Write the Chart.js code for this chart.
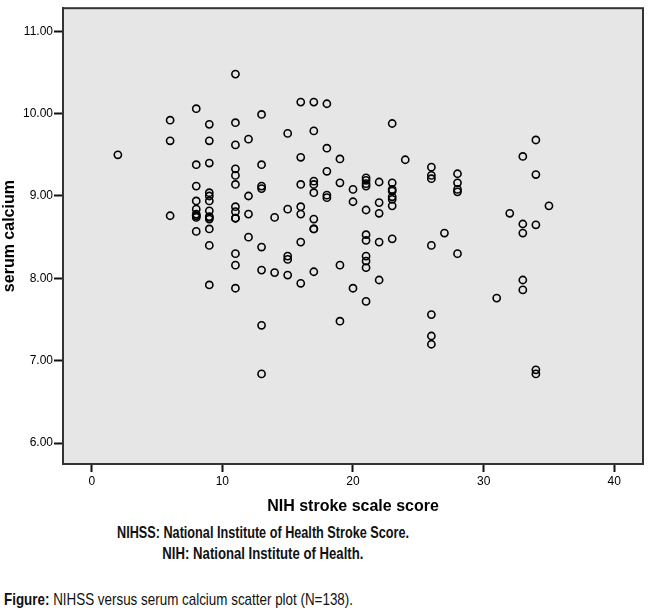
<!DOCTYPE html>
<html>
<head>
<meta charset="utf-8">
<script src="https://cdn.jsdelivr.net/npm/chart.js@4.4.1/dist/chart.umd.min.js"></script>
<style>
  body { margin: 0; background: #fff; }
  #wrap { position: relative; width: 650px; height: 616px; }
  #box { position: absolute; left: 0; top: 0; width: 650px; height: 520px; }
  .note {
    position: absolute; white-space: nowrap; color: #111; font-size: 17px; line-height: 20px;
    font-family: "Liberation Sans", Arial, sans-serif;
  }
</style>
</head>
<body>
<div id="wrap">
  <div id="box"><canvas id="scatterChart"></canvas></div>
  <span class="note" data-w="292" data-cx="263" style="top:523px;font-weight:bold">NIHSS: National Institute of Health Stroke Score.</span>
  <span class="note" data-w="201" data-cx="263" style="top:544px;font-weight:bold">NIH: National Institute of Health.</span>
  <span class="note" data-w="349" style="left:4px;top:590px"><b>Figure:</b> NIHSS versus serum calcium scatter plot (N=138).</span>
</div>
<script>
// NIHSS score of each patient (x) and matching serum calcium (y)
const nihss = [
  2,
  6, 6, 6,
  8, 8, 8, 8, 8, 8, 8, 8, 8, 8,
  9, 9, 9, 9, 9, 9, 9, 9, 9, 9, 9, 9, 9,
  11, 11, 11, 11, 11, 11, 11, 11, 11, 11, 11, 11, 11,
  12, 12, 12, 12,
  13, 13, 13, 13, 13, 13, 13, 13,
  14, 14,
  15, 15, 15, 15, 15,
  16, 16, 16, 16, 16, 16, 16,
  17, 17, 17, 17, 17, 17, 17, 17, 17,
  18, 18, 18, 18, 18,
  19, 19, 19, 19,
  20, 20, 20,
  21, 21, 21, 21, 21, 21, 21, 21, 21, 21, 21,
  22, 22, 22, 22, 22,
  23, 23, 23, 23, 23, 23, 23, 23,
  24,
  26, 26, 26, 26, 26, 26, 26,
  27,
  28, 28, 28, 28, 28,
  31,
  32,
  33, 33, 33, 33, 33,
  34, 34, 34, 34, 34,
  35
];
const calcium = [
  9.50,
  9.92, 9.67, 8.76,
  10.06, 9.38, 9.12, 8.94, 8.84, 8.78, 8.76, 8.76, 8.74, 8.57,
  9.87, 9.67, 9.40, 9.04, 9.00, 8.94, 8.82, 8.75, 8.74, 8.72, 8.60, 8.40, 7.92,
  10.48, 9.89, 9.62, 9.33, 9.25, 9.14, 8.87, 8.81, 8.73, 8.73, 8.30, 8.16, 7.88,
  9.69, 9.00, 8.78, 8.50,
  9.99, 9.38, 9.12, 9.09, 8.38, 8.10, 7.43, 6.84,
  8.74, 8.07,
  9.76, 8.84, 8.27, 8.23, 8.04,
  10.14, 9.47, 9.14, 8.87, 8.78, 8.44, 7.94,
  10.14, 9.79, 9.18, 9.14, 9.04, 8.72, 8.60, 8.60, 8.08,
  10.12, 9.58, 9.30, 9.01, 8.98,
  9.45, 9.16, 8.16, 7.48,
  9.08, 8.93, 7.88,
  9.22, 9.19, 9.15, 9.12, 8.83, 8.53, 8.46, 8.27, 8.21, 8.13, 7.72,
  9.17, 8.92, 8.79, 8.44, 7.98,
  9.88, 9.16, 9.08, 9.06, 8.99, 8.96, 8.88, 8.48,
  9.44,
  9.35, 9.25, 9.21, 8.40, 7.56, 7.30, 7.20,
  8.55,
  9.27, 9.16, 9.08, 9.05, 8.30,
  7.76,
  8.79,
  9.48, 8.66, 8.55, 7.98, 7.86,
  9.68, 9.26, 8.65, 6.89, 6.84,
  8.88
];
const xTicks = [0, 10, 20, 30, 40];
const yTicks = [6, 7, 8, 9, 10, 11];

const points = nihss.map((x, i) => ({ x: x, y: calcium[i] }));

// squeeze the footnote lines to the condensed width of the original
document.querySelectorAll('.note').forEach(el => {
  const w = el.getBoundingClientRect().width;
  const k = Number(el.dataset.w) / w;
  if (el.dataset.cx) {
    el.style.left = (Number(el.dataset.cx) - w / 2) + 'px';
    el.style.transformOrigin = 'center';
  } else {
    el.style.transformOrigin = 'left';
  }
  el.style.transform = 'scaleX(' + k + ')';
});

// grey plot background and the box around it
const plotFrame = {
  id: 'plotFrame',
  beforeDatasetsDraw(chart) {
    const { ctx, chartArea: a } = chart;
    ctx.save();
    ctx.fillStyle = '#e6e6e6';
    ctx.fillRect(a.left, a.top, a.right - a.left, a.bottom - a.top);
    ctx.restore();
  },
  afterDraw(chart) {
    const { ctx, chartArea: a } = chart;
    ctx.save();
    ctx.strokeStyle = '#333';
    ctx.lineWidth = 2;
    ctx.strokeRect(a.left, a.top, a.right - a.left, a.bottom - a.top);
    ctx.restore();
  }
};

const tickFont = { family: 'Liberation Sans', size: 12 };
const titleFont = { family: 'Liberation Sans', size: 16, weight: 'bold' };

new Chart(document.getElementById('scatterChart').getContext('2d'), {
  type: 'scatter',
  data: {
    datasets: [{
      label: 'serum calcium',
      data: points,
      pointRadius: 3.6,
      pointHoverRadius: 3.6,
      borderWidth: 1.6,
      borderColor: '#000',
      backgroundColor: 'rgba(0,0,0,0)'
    }]
  },
  options: {
    responsive: true,
    maintainAspectRatio: false,
    animation: false,
    layout: { padding: { top: 5, right: 7, left: 0, bottom: 0 } },
    plugins: {
      legend: { display: false },
      tooltip: { enabled: false }
    },
    scales: {
      x: {
        type: 'linear',
        min: -2.2,
        max: 42.2,
        afterBuildTicks: s => { s.ticks = xTicks.map(v => ({ value: v })); },
        afterFit: s => { s.height = 56; },
        ticks: { color: '#000', font: tickFont, padding: 2, includeBounds: false },
        grid: { drawOnChartArea: false, tickLength: 8, tickColor: '#111', tickWidth: 2 },
        border: { color: '#333', width: 2 },
        title: { display: true, text: 'NIH stroke scale score', color: '#000', font: titleFont, padding: { top: 10, bottom: 4 } }
      },
      y: {
        type: 'linear',
        min: 5.746,
        max: 11.28,
        afterBuildTicks: s => { s.ticks = yTicks.map(v => ({ value: v })); },
        afterFit: s => { s.width = 63; },
        ticks: { color: '#000', font: tickFont, padding: 1, includeBounds: false, callback: v => v.toFixed(2) },
        grid: { drawOnChartArea: false, tickLength: 9, tickColor: '#111', tickWidth: 2 },
        border: { color: '#333', width: 2 },
        title: { display: true, text: 'serum calcium', color: '#000', font: titleFont, padding: 0 }
      }
    }
  },
  plugins: [plotFrame]
});
</script>
</body>
</html>
